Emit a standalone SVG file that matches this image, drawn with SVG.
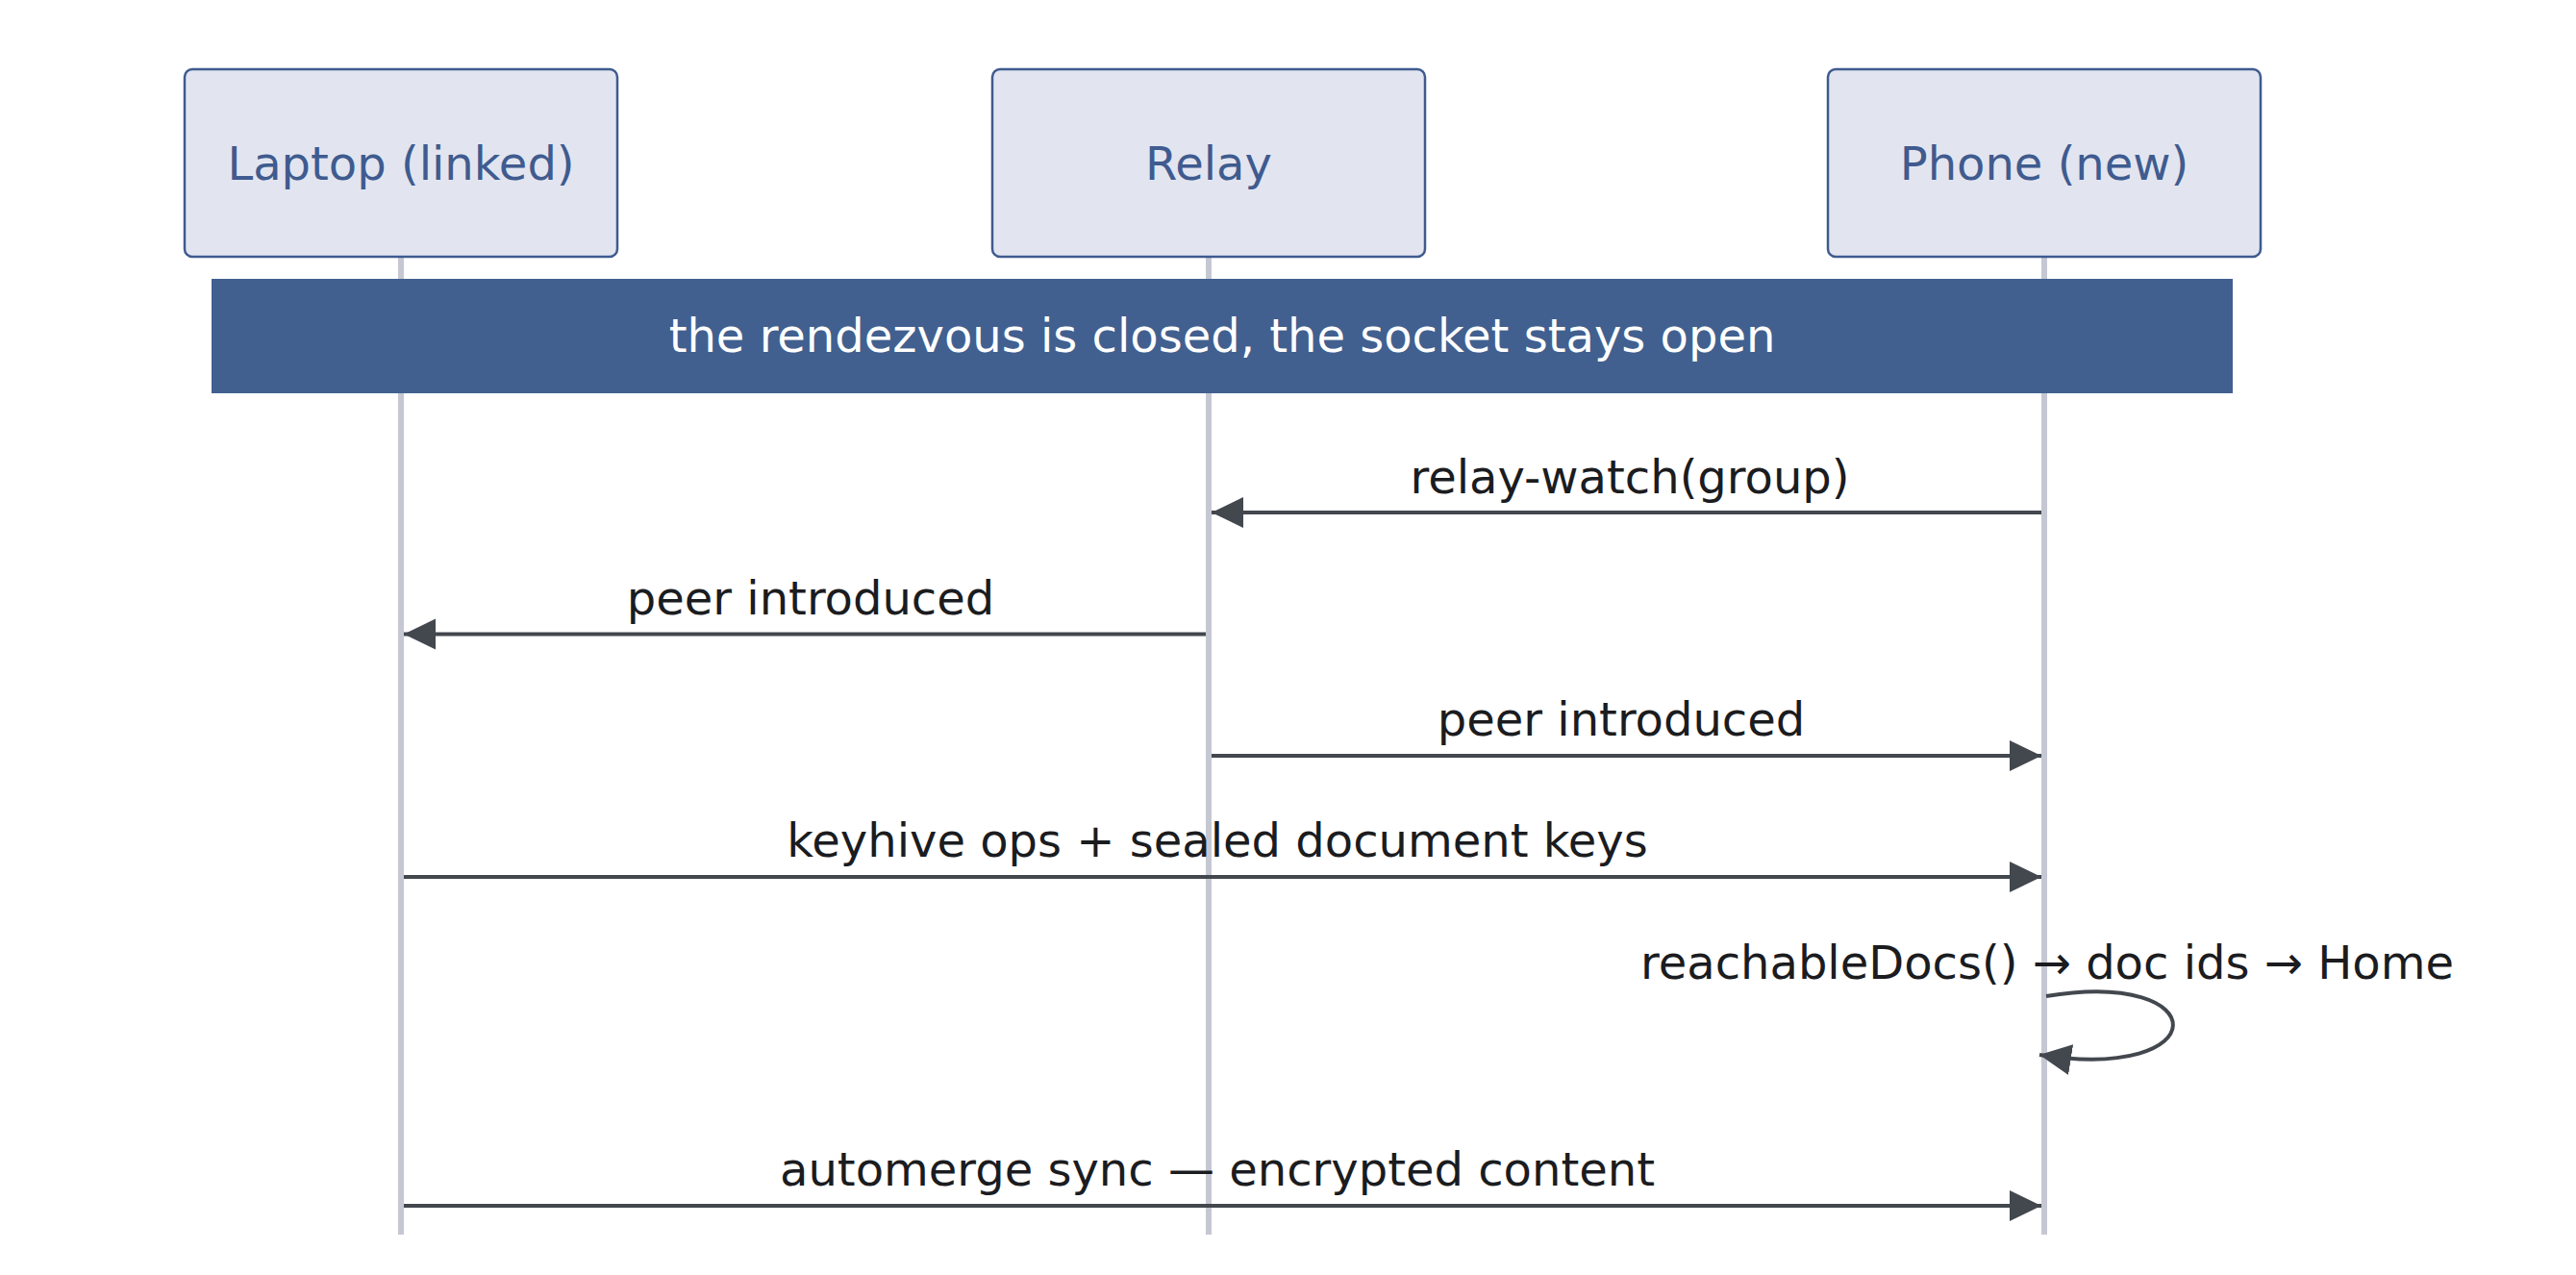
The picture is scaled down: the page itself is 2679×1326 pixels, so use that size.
<svg xmlns="http://www.w3.org/2000/svg" width="2679" height="1326" viewBox="0 0 2679 1326">
<style>
  text { font-family: "DejaVu Sans", "Noto Sans", sans-serif; font-size: 48px; }
  .actor rect { fill: #e2e5f0; stroke: #3f5b8f; stroke-width: 2.5; }
  .actor text { fill: #3f5b8f; text-anchor: middle; }
  .lifeline { stroke: #c5c8d3; stroke-width: 6; fill: none; }
  .msg { stroke: #43474e; stroke-width: 4; fill: none; marker-end: url(#arrow); }
  .lbl { fill: #1b1c1f; text-anchor: middle; }
  .note rect { fill: #41608f; }
  .note text { fill: #ffffff; text-anchor: middle; }
</style>
<defs>
  <marker id="arrow" markerUnits="userSpaceOnUse" markerWidth="34" markerHeight="34" refX="33" refY="16" orient="auto" viewBox="0 0 34 34">
    <path d="M0,0 L33,16 L0,32 z" fill="#43474e"/>
  </marker>
</defs>
<rect width="2679" height="1326" fill="#ffffff"/>
<g id="lifelines">
  <line class="lifeline" x1="417" y1="267" x2="417" y2="1284"/>
  <line class="lifeline" x1="1257" y1="267" x2="1257" y2="1284"/>
  <line class="lifeline" x1="2126" y1="267" x2="2126" y2="1284"/>
</g>
<g id="laptop" class="actor">
  <rect x="192" y="72" width="450" height="195" rx="8"/>
  <text x="417" y="187">Laptop (linked)</text>
</g>
<g id="relay" class="actor">
  <rect x="1032" y="72" width="450" height="195" rx="8"/>
  <text x="1257" y="187">Relay</text>
</g>
<g id="phone" class="actor">
  <rect x="1901" y="72" width="450" height="195" rx="8"/>
  <text x="2126" y="187">Phone (new)</text>
</g>
<g id="note" class="note">
  <rect x="220" y="290" width="2102" height="119"/>
  <text x="1271" y="366">the rendezvous is closed, the socket stays open</text>
</g>
<g id="connectors">
  <line class="msg" x1="2123" y1="533" x2="1260" y2="533"/>
  <text class="lbl" x="1695" y="513">relay-watch(group)</text>
  <line class="msg" x1="1254" y1="659.5" x2="420" y2="659.5"/>
  <text class="lbl" x="843" y="639">peer introduced</text>
  <line class="msg" x1="1260" y1="786" x2="2123" y2="786"/>
  <text class="lbl" x="1686" y="765">peer introduced</text>
  <line class="msg" x1="420" y1="912" x2="2123" y2="912"/>
  <text class="lbl" x="1266" y="891">keyhive ops + sealed document keys</text>
  <path class="msg" d="M2128,1036 C2305,1007 2305,1126 2121,1097"/>
  <text class="lbl" x="2129" y="1018">reachableDocs() → doc ids → Home</text>
  <line class="msg" x1="420" y1="1254" x2="2123" y2="1254"/>
  <text class="lbl" x="1266" y="1233">automerge sync — encrypted content</text>
</g>
</svg>
